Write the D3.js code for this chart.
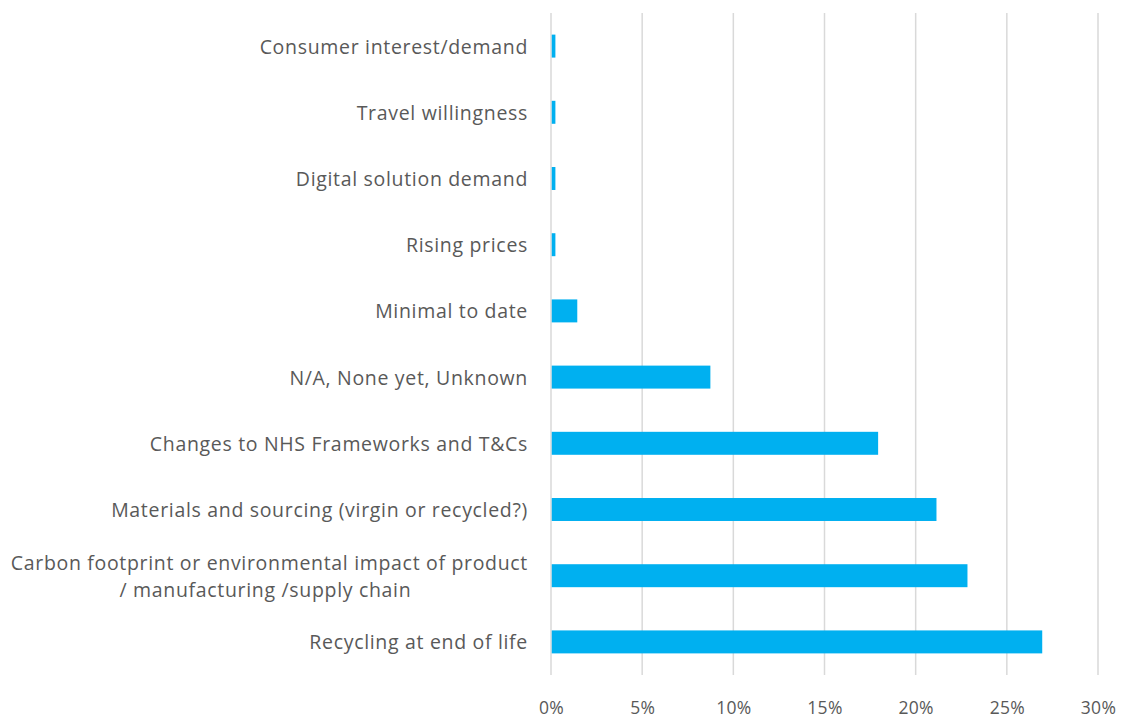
<!DOCTYPE html>
<html>
<head>
<meta charset="utf-8">
<script src="https://cdn.jsdelivr.net/npm/d3@7"></script>
<style>
  html, body { margin: 0; padding: 0; background: #ffffff; }
  svg { display: block; font-family: "Open Sans", Lato, sans-serif; }
</style>
</head>
<body>
<svg id="chart" width="1126" height="718"></svg>
<script>
// Categories from top to bottom, with the share of responses for each (%)
const categories = [
  "Consumer interest/demand",
  "Travel willingness",
  "Digital solution demand",
  "Rising prices",
  "Minimal to date",
  "N/A, None yet, Unknown",
  "Changes to NHS Frameworks and T&Cs",
  "Materials and sourcing (virgin or recycled?)",
  "Carbon footprint or environmental impact of product|/ manufacturing /supply chain",
  "Recycling at end of life"
];
const values = [0.2, 0.2, 0.2, 0.2, 1.4, 8.7, 17.9, 21.1, 22.8, 26.9];
const tickValues = [0, 5, 10, 15, 20, 25, 30];

const svg = d3.select("#chart");
const margin = { top: 13, right: 28, bottom: 43, left: 551 };
const width = 1126 - margin.left - margin.right;
const height = 718 - margin.top - margin.bottom;

const g = svg.append("g").attr("transform", `translate(${margin.left},${margin.top})`);

const x = d3.scaleLinear().domain([0, 30]).range([0, width]);
const y = d3.scaleBand().domain(categories).range([0, height]).paddingInner(0.653).paddingOuter(0.3265);

// Vertical gridlines
g.append("g")
  .selectAll("line")
  .data(tickValues)
  .join("line")
  .attr("x1", d => x(d)).attr("x2", d => x(d))
  .attr("y1", 0).attr("y2", height)
  .attr("stroke", "#d9d9d9")
  .attr("stroke-width", 1.5);

// Bars
g.append("g")
  .selectAll("rect")
  .data(categories)
  .join("rect")
  .attr("x", x(0) + 0.75)
  .attr("y", d => y(d))
  .attr("width", (d, i) => x(values[i]) - x(0))
  .attr("height", y.bandwidth())
  .attr("fill", "#00b0f0");

// X axis tick labels
const xAxis = d3.axisBottom(x).tickValues(tickValues).tickFormat(d => d + "%").tickSize(0).tickPadding(0);
const xg = g.append("g").attr("transform", `translate(0,${height})`).call(xAxis);
xg.select(".domain").remove();
xg.selectAll("text")
  .attr("dy", null)
  .attr("y", 38.5)
  .attr("font-size", 17.5)
  .attr("letter-spacing", 0.3)
  .attr("font-family", "'Open Sans', Lato, sans-serif")
  .attr("fill", "#595959");

// Category labels (multi-line labels are split on "|")
const labelRight = -23;
const lineGap = 27;
const labels = g.append("g");
categories.forEach(cat => {
  const lines = cat.split("|");
  const cy = y(cat) + y.bandwidth() / 2;
  const t = labels.append("text")
    .attr("font-size", 19.5)
    .attr("letter-spacing", 0.68)
    .attr("fill", "#595959")
    .attr("dominant-baseline", "central");
  if (lines.length === 1) {
    t.attr("x", labelRight).attr("y", cy).attr("text-anchor", "end").text(lines[0]);
  } else {
    const first = t.append("tspan")
      .attr("x", labelRight)
      .attr("y", cy - lineGap / 2)
      .attr("text-anchor", "end")
      .text(lines[0]);
    const w = first.node().getComputedTextLength();
    lines.slice(1).forEach((ln, k) => {
      t.append("tspan")
        .attr("x", labelRight - w / 2 - 4)
        .attr("y", cy - lineGap / 2 + lineGap * (k + 1))
        .attr("text-anchor", "middle")
        .text(ln);
    });
  }
});
</script>
</body>
</html>
